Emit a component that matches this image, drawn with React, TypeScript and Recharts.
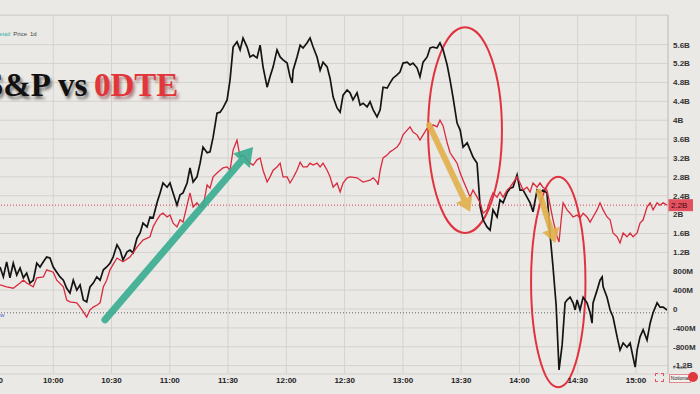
import {
  CartesianGrid,
  Line,
  LineChart,
  ReferenceArea,
  ReferenceLine,
  XAxis,
  YAxis,
} from 'recharts'

const BG = '#ebe9e6'
const GRID = '#d4d2cf'
const RED = '#d92a3c'
const INK = '#141414'

// minutes after 9:30
const TIME_TICKS = [0, 30, 60, 90, 120, 150, 180, 210, 240, 270, 300, 330]
const Y_TICKS = [-1.2, -0.8, -0.4, 0, 0.4, 0.8, 1.2, 1.6, 2, 2.4, 2.8, 3.2, 3.6, 4, 4.4, 4.8, 5.2, 5.6]

// S&P path (drawn on the same visual scale)
const SPX_T = [
  2.6, 4.3, 6.0, 7.7, 9.4, 11.2, 12.9, 14.6, 16.3, 18.0, 19.7, 21.5, 23.2, 24.9, 26.6, 28.3, 30.0, 31.8, 33.5, 35.2,
  36.9, 38.6, 40.3, 42.1, 43.8, 45.5, 47.2, 48.9, 50.6, 52.4, 54.1, 55.8, 57.5, 59.2,
  60.8, 62.8, 64.4, 65.9, 68.0, 69.5, 71.1, 73.1, 74.7, 76.2, 78.3, 79.8, 81.4, 83.4, 85.0, 86.5, 88.6, 90.1, 91.7, 93.7,
  95.3, 96.8, 98.9, 100.4, 102.0, 104.0, 105.6, 107.1, 109.2, 110.7, 112.3, 114.3, 115.9,
  117.4, 119.5, 121.0, 122.6, 124.6, 126.2, 127.7, 129.8, 131.3, 132.9, 134.9, 136.5, 138.0, 140.1, 141.6, 143.2, 145.2,
  146.8, 148.3, 150.4, 151.9, 153.0, 153.5, 155.5, 157.1, 158.6, 160.7, 162.2, 163.8, 165.8, 167.4, 168.9, 171.0, 172.5,
  174.1, 176.1, 177.7,
  179.2, 181.3, 182.8, 184.3, 186.4, 188.0, 189.5, 191.6, 193.1, 194.7, 196.7, 198.3, 199.8, 201.9, 203.4, 204.9, 207.0,
  208.5, 210.1, 212.2, 213.7, 215.2, 217.3, 218.8, 220.4, 222.5, 224.0, 225.5, 227.6, 229.1,
  230.7, 232.8, 234.3, 235.8, 237.9, 239.5, 241.0, 243.1, 244.6, 246.1, 248.2, 248.7, 249.8, 251.3, 253.3, 254.9, 256.4,
  258.5, 260.0, 261.6, 263.6, 265.2, 266.7, 268.8, 270.3, 271.9, 273.9, 275.5, 277.0, 279.1, 280.6, 282.1, 284.2,
  285.8, 287.3, 288.9, 290.4, 292.0, 293.5, 294.5, 296.1, 297.6, 298.7, 299.7, 301.2, 302.8, 304.8, 306.4, 307.4, 307.9,
  310.0, 311.5, 312.6, 313.1, 315.1, 316.7, 318.2, 320.3, 321.8, 323.4, 325.4, 327.0, 328.5, 329.6, 330.6, 332.1, 333.7,
  335.7, 337.3, 338.8, 340.9, 342.4, 344.0, 346.0,
]
const SPX_V = [
  0.89, 0.68, 1.0, 0.66, 0.97, 0.72, 0.87, 0.66, 0.76, 0.55, 0.61, 0.97, 0.89, 1.0, 1.1, 1.08, 0.89, 0.78, 0.68, 0.61,
  0.44, 0.34, 0.61, 0.4, 0.51, 0.19, 0.15, 0.47, 0.55, 0.68, 0.61, 0.83, 0.89, 0.97,
  1.1, 1.36, 1.25, 1.04, 1.21, 1.25, 1.19, 1.5, 1.61, 1.82, 1.74, 1.95, 1.93, 2.25, 2.46, 2.67, 2.58, 2.67, 2.46, 2.2,
  2.42, 2.46, 2.67, 2.99, 2.69, 2.8, 3.09, 3.43, 3.31, 3.33, 3.64, 4.15, 4.17,
  4.26, 4.43, 4.85, 5.55, 5.66, 5.49, 5.74, 5.55, 5.34, 5.38, 5.32, 5.59, 5.13, 4.7, 4.92, 5.13, 5.49,
  5.34, 5.28, 5.21, 4.92, 4.79, 5.06, 5.34, 5.59, 5.53, 5.64, 5.74, 5.55, 5.34, 5.06, 5.23, 5.13, 4.89,
  4.49, 4.26, 4.17,
  4.53, 4.64, 4.58, 4.43, 4.58, 4.32, 4.36, 4.28, 4.39, 4.22, 4.07, 4.22, 4.7, 4.68, 4.79, 4.89, 4.96,
  5.02, 5.21, 5.23, 5.17, 5.21, 5.11, 4.92, 5.23, 5.34, 5.53, 5.55, 5.53, 5.64,
  5.49, 5.17, 4.85, 4.49, 3.94, 3.79, 3.43, 3.52, 3.37, 3.22, 3.09, 2.8, 2.16, 1.89, 1.74, 1.67, 2.1,
  1.95, 2.31, 2.25, 2.46, 2.56, 2.58, 2.84, 2.52, 2.52, 2.37, 2.25, 2.06, 2.52, 2.46, 2.52, 2.46,
  1.57, 0.89, 0.08, -1.29, -0.76, 0.13, 0.19, 0.25, 0.13, -0.02, 0.19, -0.02, 0.25, 0.13, -0.08, -0.3, 0.13,
  0.4, 0.61, 0.68, 0.47, 0.25, -0.02, -0.17, -0.59, -0.87, -0.72, -0.81, -0.72, -1.02, -1.23, -0.87, -0.59, -0.44,
  -0.66, -0.3, -0.08, 0.13, 0.04, 0.04, -0.02,
]

// 0DTE cumulative notional, $B
const ODTE_T = [
  2.6, 6.0, 9.4, 12.9, 14.6, 16.3, 19.7, 21.5, 24.9, 26.6, 30.0, 31.8, 35.2, 36.9, 38.6, 42.1, 43.8, 45.5, 47.2, 48.9,
  50.6, 52.4, 54.1, 55.8, 57.5, 59.2, 60.9, 62.8,
  65.9, 69.5, 73.1, 76.2, 79.8, 81.4, 83.4, 85.0, 86.5, 88.6, 90.1, 91.7, 93.7, 95.3, 96.8, 98.9, 100.4, 102.0, 104.0,
  105.6, 107.1, 109.2, 110.7, 112.3, 114.3, 115.9, 117.4, 119.5, 121.0,
  122.6, 124.6, 126.2, 127.7, 129.8, 131.3, 132.9, 134.9, 136.5, 138.0, 140.1, 141.6, 143.2, 145.2, 146.8, 148.3, 150.4,
  151.9, 153.5, 155.5, 157.1, 158.6, 160.7, 162.2, 163.8, 165.8, 167.4, 168.9, 171.0, 172.5, 174.1, 176.1, 177.7, 179.2,
  181.3, 182.8,
  186.4, 189.5, 193.1, 194.7, 196.7, 197.2, 198.3, 199.8, 201.9, 203.4, 204.9, 207.0, 208.5, 210.1, 212.2, 213.7, 215.2,
  217.3, 218.8, 220.4, 222.5, 224.0, 225.5, 227.6, 229.1,
  230.7, 232.8, 234.3, 235.8, 237.9, 239.5, 241.0, 243.1, 244.6, 246.1, 248.2, 249.8, 251.3, 253.3, 254.9, 256.4, 258.5,
  260.0, 261.6, 263.6, 265.2, 266.7, 268.8, 270.3, 271.9, 273.9, 275.5, 277.0, 279.1, 280.6, 282.1, 284.2,
  285.8, 287.3, 289.4, 290.4, 291.5, 292.5, 294.5, 296.1, 297.6, 299.7, 301.2, 302.8, 304.8, 306.4, 307.9, 310.0, 311.5,
  313.1, 315.1, 316.7, 318.2, 320.3, 321.8, 323.4, 325.4, 327.0, 328.5, 330.6, 332.1, 333.7, 335.7, 337.3, 338.8, 340.9,
  342.4, 344.0, 346.0,
]
const ODTE_V = [
  0.51, 0.47, 0.44, 0.55, 0.61, 0.55, 0.47, 0.66, 0.68, 0.83, 0.78, 0.61, 0.47, 0.19, 0.15, 0.13, 0.04, -0.06, -0.17, -0.02,
  0.04, 0.08, 0.13, 0.47, 0.61, 0.83, 0.95, 1.08,
  1.0, 1.1, 1.31, 1.46, 1.53, 1.74, 1.89, 1.99, 2.03, 1.95, 1.99, 1.82, 1.74, 1.89, 1.84, 2.2, 2.46, 2.16, 2.25,
  2.16, 2.16, 2.63, 2.56, 2.8, 2.88, 2.94, 2.99, 3.01, 2.94,
  3.37, 3.58, 3.22, 3.26, 3.16, 3.09, 3.05, 3.16, 3.2, 2.94, 2.69, 2.8, 2.94, 3.01, 3.09, 2.8, 2.8,
  2.67, 2.78, 2.94, 3.11, 3.01, 3.01, 3.09, 3.05, 3.09, 3.01, 3.09, 2.94, 2.8, 2.58, 2.67, 2.48, 2.67,
  2.78, 2.8,
  2.78, 2.69, 2.73, 2.78, 2.69, 2.63, 2.94, 3.2, 3.26, 3.33, 3.37, 3.43, 3.52, 3.69, 3.79, 3.86, 3.75,
  3.69, 3.58, 3.69, 3.83, 3.79, 3.9, 3.86, 4.0,
  3.88, 3.52, 3.31, 3.22, 3.09, 2.88, 2.73, 2.52, 2.37, 2.52, 2.37, 2.25, 2.03, 2.1, 2.31, 2.46, 2.37,
  2.48, 2.37, 2.52, 2.58, 2.67, 2.8, 2.67, 2.52, 2.58, 2.48, 2.67, 2.58, 2.67, 2.58, 2.52,
  2.2, 1.89, 1.53, 1.42, 1.89, 2.25, 2.1, 2.03, 1.95, 1.99, 1.93, 2.03, 1.95, 1.84, 1.95, 2.1, 2.25,
  2.1, 1.95, 1.89, 1.61, 1.53, 1.4, 1.61, 1.53, 1.61, 1.53, 1.61, 1.82, 1.89, 2.16, 2.25, 2.1, 2.25,
  2.2, 2.25, 2.2,
]

const ODTE_LAST = 2.2
const SPX_LAST = -0.08

// hand-drawn annotations, in chart units (minutes, $B)
const UP_ARROW = [{ x: 56.6, y: -0.23 }, { x: 132.9, y: 3.43 }]
const DOWN_ARROWS = [
  [{ x: 223.5, y: 3.9 }, { x: 244.6, y: 2.06 }],
  [{ x: 280.1, y: 2.48 }, { x: 288.4, y: 1.4 }],
]
const CIRCLES = [
  { x1: 223.0, x2: 261.0, y1: 5.97, y2: 1.61 },
  { x1: 276.0, x2: 304.0, y1: 2.8, y2: -1.66 },
]

const spx = SPX_T.map((t, i) => ({ t, v: SPX_V[i] }))
const odte = ODTE_T.map((t, i) => ({ t, v: ODTE_V[i] }))

function timeLabel(m: number) {
  const total = 9 * 60 + 30 + m
  const h = Math.floor(total / 60)
  const mm = total % 60
  return `${h}:${mm < 10 ? '0' : ''}${mm}`
}

function money(v: number) {
  const r = Math.round(v * 10) / 10
  if (r === 0) return '0'
  if (Math.abs(r) >= 1) return `${r}B`
  return `${Math.round(r * 1000)}M`
}

function arrowShape(color: string, w: number, head: number, half: number, opacity: number) {
  return (p: any) => {
    const { x1, y1, x2, y2 } = p
    const dx = x2 - x1
    const dy = y2 - y1
    const len = Math.hypot(dx, dy) || 1
    const ux = dx / len
    const uy = dy / len
    const bx = x2 - ux * head
    const by = y2 - uy * head
    return (
      <g opacity={opacity}>
        <line x1={x1} y1={y1} x2={bx} y2={by} stroke={color} strokeWidth={w} strokeLinecap="round" />
        <polygon
          points={`${x2},${y2} ${bx - uy * half},${by + ux * half} ${bx + uy * half},${by - ux * half}`}
          fill={color}
        />
      </g>
    )
  }
}

function ellipseShape(p: any) {
  const { x, y, width, height } = p
  return (
    <ellipse
      cx={x + width / 2}
      cy={y + height / 2}
      rx={Math.abs(width) / 2}
      ry={Math.abs(height) / 2}
      fill="none"
      stroke="#e0333f"
      strokeWidth={2}
    />
  )
}

function lastTag(p: any) {
  const { viewBox } = p
  const x = viewBox.x + viewBox.width
  const y = viewBox.y
  return (
    <g>
      <rect x={x} y={y - 6} width={25} height={12} fill="#e2525e" />
      <text x={x + 3} y={y + 3} fontSize={8} fill="#4a0810" fontFamily="Liberation Sans">
        {money(ODTE_LAST)}
      </text>
    </g>
  )
}

const titleStyle = {
  position: 'absolute' as const,
  top: 69,
  fontFamily: 'Liberation Serif, Times New Roman, serif',
  fontWeight: 'bold' as const,
  fontSize: 33,
  lineHeight: '33px',
  whiteSpace: 'nowrap' as const,
}

export default function App() {
  return (
    <div
      style={{
        position: 'fixed',
        left: 0,
        top: 0,
        width: 700,
        height: 394,
        overflow: 'hidden',
        background: BG,
        fontFamily: 'Liberation Sans, Arial, sans-serif',
      }}
    >
      <div style={{ position: 'absolute', left: 0, top: 15, width: 668, height: 1, background: GRID }} />
      <div style={{ position: 'absolute', left: -5, top: 0 }}>
        <LineChart width={705} height={394} margin={{ top: 15, right: 0, bottom: 0, left: 0 }}>
          <CartesianGrid stroke={GRID} />
          <XAxis
            type="number"
            dataKey="t"
            domain={[0, 346.5]}
            ticks={TIME_TICKS}
            interval={0}
            allowDataOverflow
            tickFormatter={timeLabel}
            axisLine={false}
            tickLine={false}
            tickSize={2}
            tickMargin={1}
            height={20}
            tick={{ fontSize: 8, fill: '#222', fontWeight: 'bold' }}
          />
          <YAxis
            orientation="right"
            domain={[-1.377, 6.229]}
            ticks={Y_TICKS}
            interval={0}
            allowDataOverflow
            tickFormatter={money}
            axisLine={{ stroke: '#c6c4c1' }}
            tickLine={false}
            tickSize={2}
            tickMargin={3}
            width={32}
            tick={{ fontSize: 8, fill: '#333', fontWeight: 'bold' }}
          />
          <ReferenceLine y={ODTE_LAST} stroke="#d9424e" strokeDasharray="1 2" label={{ content: lastTag }} />
          <ReferenceLine y={SPX_LAST} stroke="#666" strokeDasharray="1 2" />
          <Line data={spx} dataKey="v" type="linear" stroke={INK} strokeWidth={1.7} dot={false} isAnimationActive={false} />
          <Line data={odte} dataKey="v" type="linear" stroke={RED} strokeWidth={1.3} dot={false} isAnimationActive={false} />
          <ReferenceLine segment={UP_ARROW} ifOverflow="visible" shape={arrowShape('#38ad90', 7, 18, 11, 0.9)} />
          {DOWN_ARROWS.map((seg, i) => (
            <ReferenceLine key={i} segment={seg} ifOverflow="visible" shape={arrowShape('#e2b04c', 6, 14, 9, 0.9)} />
          ))}
          {CIRCLES.map((c, i) => (
            <ReferenceArea key={i} {...c} ifOverflow="visible" shape={ellipseShape} />
          ))}
        </LineChart>
      </div>

      <div style={{ position: 'absolute', left: -5, top: 31, fontSize: 6, whiteSpace: 'nowrap', color: '#444' }}>
        <span style={{ color: '#36b2a3', marginRight: 3 }}>Retail</span>
        <span style={{ marginRight: 3 }}>Price</span>
        <span>1d</span>
      </div>

      <div style={{ ...titleStyle, left: -15, color: '#111', textShadow: '2px 3px 3px rgba(0,0,0,0.5)' }}>S&amp;P</div>
      <div style={{ ...titleStyle, left: 58, color: '#111', textShadow: '2px 3px 3px rgba(0,0,0,0.5)' }}>vs</div>
      <div style={{ ...titleStyle, left: 94, color: '#e2363b', textShadow: '2px 3px 3px rgba(90,0,0,0.45)' }}>0DTE</div>

      <div style={{ position: 'absolute', left: 0, top: 312, fontSize: 6, color: '#3a64d8' }}>w</div>

      <div style={{ position: 'absolute', left: 655, top: 373, width: 7, height: 7, border: '1px dashed #e05560' }} />
      <div style={{ position: 'absolute', left: 673, top: 365, fontSize: 4.5, lineHeight: '5px', color: '#555' }}># Calls</div>
      <div
        style={{
          position: 'absolute',
          left: 669,
          top: 374,
          width: 20,
          height: 7,
          fontSize: 5,
          lineHeight: '7px',
          color: '#222',
          border: '1px solid #e08a90',
          background: '#f3f1ee',
          textAlign: 'center',
        }}
      >
        Notional
      </div>
      <div
        style={{
          position: 'absolute',
          left: 688,
          top: 372,
          width: 10,
          height: 10,
          borderRadius: 5,
          background: '#e03a3f',
        }}
      />
</div>
  )
}
